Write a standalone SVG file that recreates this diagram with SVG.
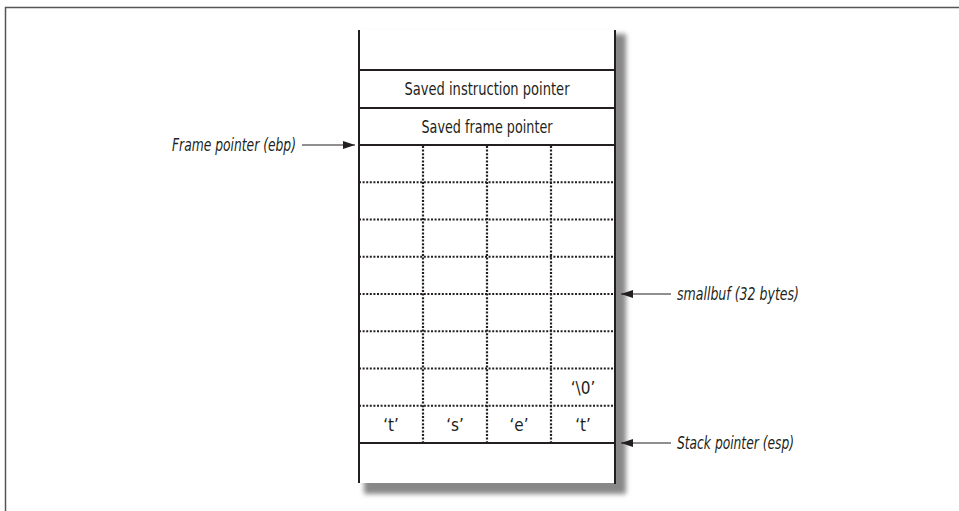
<svg xmlns="http://www.w3.org/2000/svg" width="959" height="511" viewBox="0 0 959 511">
<defs>
<style>
.solid{stroke:#231f20;stroke-width:2;fill:none}
.dot{stroke:#231f20;stroke-width:2.2;stroke-dasharray:2 1.6;fill:none}
.conn{stroke:#231f20;stroke-width:1.2;fill:none}
.t{font-family:"Liberation Sans Narrow","DejaVu Sans Condensed","Liberation Sans",sans-serif;font-size:17px;fill:#231f20;text-anchor:middle}
.lbl{font-family:"Liberation Sans Narrow","DejaVu Sans Condensed","Liberation Sans",sans-serif;font-size:17px;font-style:italic;fill:#231f20}
</style>
<filter id="blur" x="-10%" y="-10%" width="120%" height="120%"><feGaussianBlur stdDeviation="2.5"/></filter>
<marker id="arr" viewBox="0 0 12 8" refX="12" refY="4" markerWidth="12" markerHeight="8" markerUnits="userSpaceOnUse" orient="auto">
<path d="M0,0 L12,4 L0,8 Z" fill="#231f20"/>
</marker>
</defs>
<rect x="0" y="0" width="959" height="511" fill="#fff"/>
<path d="M5.5,511 V7.5 H959" stroke="#555" stroke-width="1.5" fill="none"/>

<g id="stack">
<rect x="364" y="34" width="262" height="460" fill="#888" filter="url(#blur)"/>
<rect x="359" y="30" width="256" height="453" fill="#fff"/>
<line class="solid" x1="359" y1="30" x2="359" y2="483"/>
<line class="solid" x1="615" y1="30" x2="615" y2="484"/>
</g>

<g id="saved-ip">
<line class="solid" x1="359" y1="70" x2="615" y2="70"/>
<text class="t" x="487" y="95" textLength="165" lengthAdjust="spacingAndGlyphs">Saved instruction pointer</text>
</g>
<g id="saved-fp">
<line class="solid" x1="359" y1="108" x2="615" y2="108"/>
<text class="t" x="487" y="133" textLength="131" lengthAdjust="spacingAndGlyphs">Saved frame pointer</text>
</g>

<g id="smallbuf">
<line class="solid" x1="359" y1="145" x2="615" y2="145"/>
<line class="dot" x1="359" y1="182.25" x2="615" y2="182.25"/>
<line class="dot" x1="359" y1="219.5" x2="615" y2="219.5"/>
<line class="dot" x1="359" y1="256.75" x2="615" y2="256.75"/>
<line class="dot" x1="359" y1="294" x2="615" y2="294"/>
<line class="dot" x1="359" y1="331.25" x2="615" y2="331.25"/>
<line class="dot" x1="359" y1="368.5" x2="615" y2="368.5"/>
<line class="dot" x1="359" y1="405.75" x2="615" y2="405.75"/>
<line class="dot" x1="423" y1="146" x2="423" y2="442"/>
<line class="dot" x1="487" y1="146" x2="487" y2="442"/>
<line class="dot" x1="551" y1="146" x2="551" y2="442"/>
<text class="t" x="583" y="394">‘\0’</text>
<text class="t" x="391" y="431">‘t’</text>
<text class="t" x="455" y="431">‘s’</text>
<text class="t" x="519" y="431">‘e’</text>
<text class="t" x="583" y="431">‘t’</text>
<line class="solid" x1="359" y1="443" x2="615" y2="443"/>
</g>

<g id="label-ebp">
<text class="lbl" x="172" y="151" textLength="124" lengthAdjust="spacingAndGlyphs">Frame pointer (ebp)</text>
</g>
<g id="label-smallbuf">
<text class="lbl" x="677" y="300" textLength="122" lengthAdjust="spacingAndGlyphs">smallbuf (32 bytes)</text>
</g>
<g id="label-esp">
<text class="lbl" x="677" y="449" textLength="117" lengthAdjust="spacingAndGlyphs">Stack pointer (esp)</text>
</g>

<g id="connectors">
<line class="conn" x1="302" y1="145" x2="355" y2="145" marker-end="url(#arr)"/>
<line class="conn" x1="671" y1="294" x2="621" y2="294" marker-end="url(#arr)"/>
<line class="conn" x1="671" y1="443" x2="621" y2="443" marker-end="url(#arr)"/>
</g>
</svg>
